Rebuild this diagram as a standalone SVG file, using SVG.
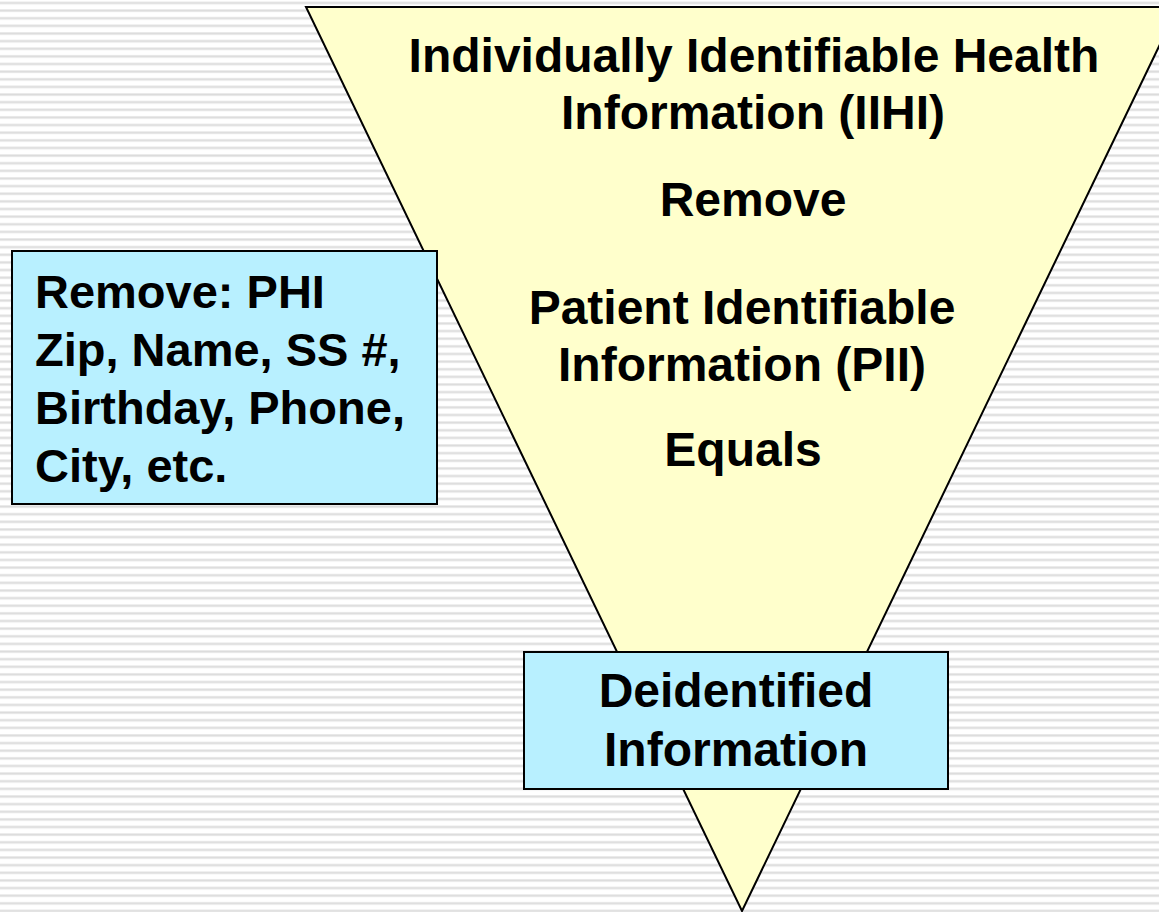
<svg xmlns="http://www.w3.org/2000/svg" width="1159" height="912" viewBox="0 0 1159 912">
  <defs>
    <!-- horizontal ruled background -->
    <pattern id="stripes" x="0" y="1.5" width="20" height="7.63" patternUnits="userSpaceOnUse">
      <rect x="0" y="0" width="20" height="7.63" fill="#ffffff"/>
      <rect x="0" y="0" width="20" height="3" fill="#ececec"/>
      <rect x="0" y="0.8" width="20" height="1.4" fill="#dcdcdc"/>
    </pattern>
    <style>
      .lbl { font-family: "Liberation Sans", Arial, sans-serif; font-weight: bold; font-size: 48px; fill: #000; }
      .small { font-size: 47px; }
      .mid { text-anchor: middle; }
      .box { fill: #b8f0ff; stroke: #000; stroke-width: 2; }
      .funnel { fill: #ffffcc; stroke: #000; stroke-width: 2; stroke-linejoin: miter; }
    </style>
  </defs>

  <rect width="1159" height="912" fill="url(#stripes)"/>

  <!-- inverted triangle -->
  <g id="funnel">
    <polygon class="funnel" points="306,7 1178,7 742,911"/>
    <text class="lbl mid" x="754" y="72">Individually Identifiable Health</text>
    <text class="lbl mid" x="753" y="129">Information (IIHI)</text>
    <text class="lbl mid" x="753" y="216">Remove</text>
    <text class="lbl mid" x="742" y="324">Patient Identifiable</text>
    <text class="lbl mid" x="742" y="381">Information (PII)</text>
    <text class="lbl mid" x="743" y="466">Equals</text>
  </g>

  <!-- PHI list box -->
  <g id="phi-box">
    <rect class="box" x="12" y="251" width="425" height="253"/>
    <text class="lbl small" x="35" y="308">Remove: PHI</text>
    <text class="lbl small" x="35" y="366">Zip, Name, SS #,</text>
    <text class="lbl small" x="35" y="424">Birthday, Phone,</text>
    <text class="lbl small" x="35" y="482">City, etc.</text>
  </g>

  <!-- result box -->
  <g id="deidentified">
    <rect class="box" x="524" y="652" width="424" height="137"/>
    <text class="lbl mid" x="736" y="707">Deidentified</text>
    <text class="lbl mid" x="736" y="766">Information</text>
  </g>

  <g id="connectors"/>
</svg>
